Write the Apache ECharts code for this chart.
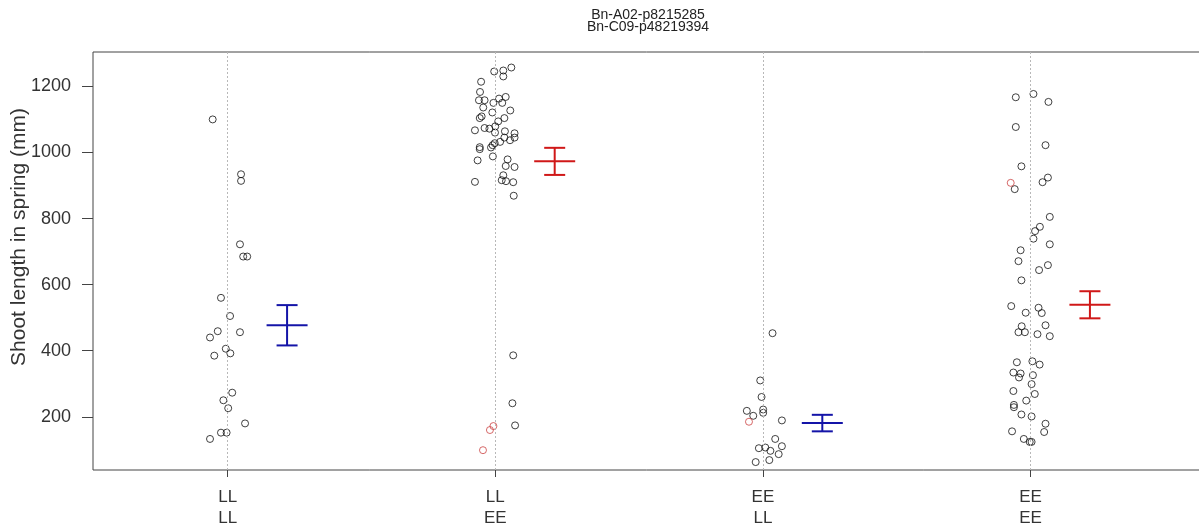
<!DOCTYPE html>
<html>
<head>
<meta charset="utf-8">
<script src="https://cdn.jsdelivr.net/npm/echarts@6/dist/echarts.min.js"></script>
<style>
html,body{margin:0;padding:0;background:#fff;}
#chart{width:1199px;height:531px;}
</style>
</head>
<body>
<div id="chart"></div>
<script>
// ---- data ----
const titleLines = ['Bn-A02-p8215285', 'Bn-C09-p48219394'];
const yAxisName = 'Shoot length in spring (mm)';
const categories = ['LL\nLL', 'LL\nEE', 'EE\nLL', 'EE\nEE'];
const yTicks = [200, 400, 600, 800, 1000, 1200];

// group 1: LL / LL
const g1Values = [1100, 934, 914, 722, 685, 685, 560, 505, 459, 440, 456, 406, 385, 392, 273, 250, 226, 180, 152, 152, 133];
const g1Jitter = [-0.056, 0.050, 0.050, 0.046, 0.058, 0.073, -0.025, 0.009, -0.037, -0.066, 0.046, -0.007, -0.050, 0.010, 0.017, -0.016, 0.002, 0.065, -0.025, -0.004, -0.066];
// group 2: LL / EE
const g2Values = [1245, 1248, 1257, 1230, 1214, 1183, 1158, 1158, 1150, 1163, 1150, 1168, 1136, 1127, 1121, 1104, 1109, 1104, 1094, 1074, 1072, 1079, 1067, 1064, 1058, 1060, 1045, 1045, 1037, 1032, 1028, 1016, 1010, 1015, 1022, 988, 976, 979, 959, 956, 911, 931, 916, 913, 910, 869, 386, 241, 174];
const g2Jitter = [-0.004, 0.030, 0.060, 0.030, -0.053, -0.057, -0.061, -0.040, -0.007, 0.014, 0.026, 0.039, -0.045, 0.056, -0.011, -0.058, -0.051, 0.034, 0.011, -0.040, -0.022, 0.000, -0.076, 0.036, 0.072, -0.001, 0.034, 0.072, 0.055, 0.018, -0.002, -0.058, -0.058, -0.016, -0.010, -0.009, -0.066, 0.046, 0.039, 0.072, -0.076, 0.030, 0.024, 0.040, 0.067, 0.069, 0.067, 0.064, 0.074];
const g2RedValues = [160, 172, 99];
const g2RedJitter = [-0.020, -0.007, -0.046];
// group 3: EE / LL
const g3Values = [453, 310, 260, 218, 203, 222, 212, 189, 133, 111, 105, 107, 97, 87, 69, 63];
const g3Jitter = [0.036, -0.010, -0.005, -0.060, -0.036, 0.001, 0.001, 0.071, 0.046, 0.071, -0.015, 0.009, 0.028, 0.059, 0.024, -0.027];
const g3RedValues = [185];
const g3RedJitter = [-0.052];
// group 4: EE / EE
const g4Values = [1167, 1177, 1153, 1077, 1022, 958, 889, 910, 924, 805, 775, 762, 739, 722, 704, 671, 659, 644, 613, 535, 515, 530, 514, 474, 456, 456, 477, 450, 444, 365, 368, 358, 334, 331, 319, 326, 299, 278, 269, 249, 236, 229, 207, 201, 179, 154, 156, 133, 124, 124];
const g4Jitter = [-0.055, 0.011, 0.067, -0.055, 0.056, -0.034, -0.059, 0.045, 0.065, 0.072, 0.035, 0.017, 0.011, 0.072, -0.037, -0.045, 0.065, 0.032, -0.034, -0.072, -0.018, 0.030, 0.042, -0.033, -0.045, -0.021, 0.056, 0.026, 0.072, -0.051, 0.007, 0.034, -0.064, -0.037, -0.043, 0.009, 0.004, -0.064, 0.016, -0.016, -0.062, -0.062, -0.034, 0.004, 0.056, 0.051, -0.069, -0.025, -0.003, 0.004];
const g4RedValues = [908];
const g4RedJitter = [-0.074];

// mean and standard error per group
const groupMeans = [477, 973, 181, 539];
const groupSE = [61, 41, 25, 41];
const barColors = ['#1414a8', '#d01818', '#1414a8', '#d01818'];

// ---- build ----
const BAR_OFFSET = 0.222;
function toPoints(g, vals, jit) { return vals.map((v, i) => [g + jit[i], v]); }

const blackPts = [].concat(
  toPoints(1, g1Values, g1Jitter),
  toPoints(2, g2Values, g2Jitter),
  toPoints(3, g3Values, g3Jitter),
  toPoints(4, g4Values, g4Jitter)
);
const redPts = [].concat(
  toPoints(2, g2RedValues, g2RedJitter),
  toPoints(3, g3RedValues, g3RedJitter),
  toPoints(4, g4RedValues, g4RedJitter)
);
const barData = groupMeans.map((m, i) => [i + 1 + BAR_OFFSET, m, m - groupSE[i], m + groupSE[i], i]);

const chart = echarts.init(document.getElementById('chart'), null, {renderer: 'canvas'});
const font = 'Liberation Sans, Arial, sans-serif';

chart.setOption({
  animation: false,
  backgroundColor: '#fff',
  graphic: [
    {
      type: 'text', x: 648, y: 9,
      style: {text: titleLines.join('\n'), font: '14px ' + font, fill: '#222', align: 'center', verticalAlign: 'top', lineHeight: 12}
    },
    {
      type: 'text', x: 19, y: 237, rotation: Math.PI / 2,
      style: {text: yAxisName, font: '21px ' + font, fill: '#333', align: 'center', verticalAlign: 'middle'}
    }
  ],
  grid: {left: 93, right: -6, top: 52, bottom: 61, show: true, borderColor: '#444', borderWidth: 1, containLabel: false, outerBoundsMode: 'none'},
  xAxis: {
    type: 'value', min: 0.4968, max: 4.652,
    axisLine: {show: false},
    splitLine: {show: false},
    axisTick: {show: true, inside: false, length: 7, lineStyle: {color: '#444'}, customValues: [1, 2, 3, 4]},
    axisLabel: {
      customValues: [1, 2, 3, 4], margin: 17,
      formatter: v => categories[Math.round(v) - 1],
      fontFamily: 'Liberation Sans Narrow, Liberation Sans, Arial', fontSize: 17, color: '#333', lineHeight: 21
    }
  },
  yAxis: {
    type: 'value', min: 39, max: 1304,
    axisLine: {show: false},
    splitLine: {show: false},
    axisTick: {show: true, inside: false, length: 11, lineStyle: {color: '#444'}, customValues: yTicks},
    axisLabel: {customValues: yTicks, margin: 22, fontFamily: font, fontSize: 18, color: '#333', formatter: v => String(v)}
  },
  series: [
    {
      type: 'scatter', data: blackPts, symbol: 'circle', symbolSize: 7, silent: true,
      itemStyle: {color: 'rgba(0,0,0,0)', borderColor: '#111', borderWidth: 1},
      markLine: {
        silent: true, symbol: 'none', label: {show: false},
        lineStyle: {color: '#b8b8b8', type: [2, 2], width: 1},
        data: [{xAxis: 1}, {xAxis: 2}, {xAxis: 3}, {xAxis: 4}]
      },
      z: 3
    },
    {
      type: 'scatter', data: redPts, symbol: 'circle', symbolSize: 7, silent: true,
      itemStyle: {color: 'rgba(0,0,0,0)', borderColor: '#cc4444', borderWidth: 1},
      z: 3
    },
    {
      type: 'custom', data: barData, silent: true, z: 4,
      renderItem: function (params, api) {
        const x = api.value(0), m = api.value(1), lo = api.value(2), hi = api.value(3);
        const c = barColors[api.value(4)];
        const pm = api.coord([x, m]), pl = api.coord([x, lo]), ph = api.coord([x, hi]);
        const cap = 10.5, mw = 20.5;
        const st = {stroke: c, lineWidth: 2};
        return {type: 'group', children: [
          {type: 'line', shape: {x1: pl[0], y1: pl[1], x2: ph[0], y2: ph[1]}, style: st},
          {type: 'line', shape: {x1: pl[0] - cap, y1: pl[1], x2: pl[0] + cap, y2: pl[1]}, style: st},
          {type: 'line', shape: {x1: ph[0] - cap, y1: ph[1], x2: ph[0] + cap, y2: ph[1]}, style: st},
          {type: 'line', shape: {x1: pm[0] - mw, y1: pm[1], x2: pm[0] + mw, y2: pm[1]}, style: st}
        ]};
      }
    }
  ]
});
</script>
</body>
</html>
